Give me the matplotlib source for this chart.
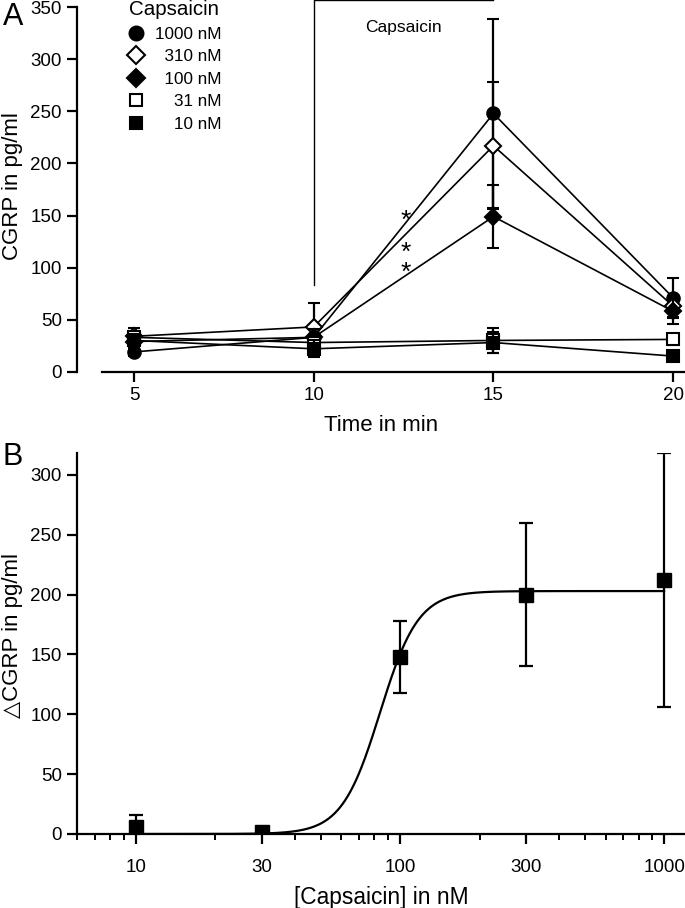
import numpy as np
import matplotlib.pyplot as plt
from matplotlib.lines import Line2D
from matplotlib.ticker import FixedLocator, NullFormatter

plt.rcParams['font.family'] = ['Liberation Sans', 'DejaVu Sans']

# Panel A: time course
times = [5, 10, 15, 20]
conc_labels = ['1000 nM', '  310 nM', '  100 nM', '    31 nM', '    10 nM']
markers = ['o', 'D', 'D', 's', 's']
filled = [True, False, True, False, True]
msizes = [9, 8, 8, 8, 8]
cgrp = [
    [19, 33, 248, 71],   # 1000 nM
    [34, 43, 217, 63],   # 310 nM
    [29, 33, 149, 58],   # 100 nM
    [33, 28, 30, 31],    # 31 nM
    [30, 22, 28, 15],    # 10 nM
]
cgrp_err = [
    [4, 8, 91, 19],
    [8, 23, 61, 10],
    [5, 8, 30, 12],
    [6, 8, 12, 5],
    [5, 8, 10, 4],
]
stim_start, stim_end, stim_low, stim_top = 10, 15, 83, 357
star_x = 12.57
star_y = [150, 119, 100]

# Panel B: concentration response
conc = [10, 30, 100, 300, 1000]
delta_cgrp = [6, 2, 148, 200, 212]
delta_err = [10, 0, 30, 60, 106]
minor_conc = [6, 7, 8, 9, 20, 40, 50, 60, 70, 80, 90,
              200, 400, 500, 600, 700, 800, 900]
fit_top, fit_ec50, fit_hill = 203, 84, 6.0

fig = plt.figure(figsize=(6.85, 9.08), dpi=100)

# ---- A ----
ax1 = fig.add_axes([77/685, 1 - 371.7/908, 608/685, 371.7/908])
for i in range(len(cgrp)):
    ax1.errorbar(times, cgrp[i], yerr=cgrp_err[i], color='black', lw=1.2,
                 marker=markers[i], ms=msizes[i], mec='black', mew=1.5,
                 mfc='black' if filled[i] else 'white',
                 elinewidth=1.6, capsize=4, capthick=1.6, zorder=3 + i * 0.1)

ax1.plot([stim_start, stim_start, stim_end], [stim_low, stim_top, stim_top],
         color='black', lw=1.0, clip_on=False)
ax1.text((stim_start + stim_end) / 2, 331, 'Capsaicin', fontsize=12.5,
         ha='center', va='center')

# significance stars: top one alone, the two lower ones share one text
ax1.annotate('*', (star_x, star_y[0]), xytext=(0, -4),
             textcoords='offset points', fontsize=19, ha='center', va='center')
ax1.annotate('*\n*', (star_x, (star_y[1] + star_y[2]) / 2), xytext=(0, -4),
             textcoords='offset points', fontsize=19, ha='center',
             va='center', linespacing=0.78)

ax1.set_xlim(3.414, 20.33)
ax1.set_ylim(0, 357)
ax1.set_xticks(times)
ax1.set_yticks(np.arange(0, 351, 50))
ax1.spines['top'].set_visible(False)
ax1.spines['right'].set_visible(False)
ax1.spines['left'].set_bounds(0, 350)
ax1.spines['bottom'].set_bounds(4.11, 20.33)
for sp in ['left', 'bottom']:
    ax1.spines[sp].set_linewidth(1.6)
ax1.tick_params(direction='out', length=7, width=1.6, labelsize=13.5, pad=4)
ax1.set_xlabel('Time in min', fontsize=16, labelpad=8)
ax1.set_ylabel('CGRP in pg/ml', fontsize=16, va='center')
ax1.yaxis.set_label_coords((13 - 77) / 608, 0.5)

handles = [Line2D([], [], ls='none', marker=markers[i], ms=msizes[i] + 1,
                  color='black', mew=1.5,
                  mfc='black' if filled[i] else 'white')
           for i in range(len(conc_labels))]
leg = ax1.legend(handles, conc_labels, title='Capsaicin', loc='upper left',
                 bbox_to_anchor=((129 - 77) / 608, 1.0), frameon=False,
                 fontsize=12.3, title_fontsize=14.8, borderpad=0,
                 borderaxespad=0, handlelength=0.8, handletextpad=0.7,
                 labelspacing=0.44)
leg._legend_box.align = 'left'

fig.text(13 / 685, 1 - 17 / 908, 'A', fontsize=22, ha='center', va='center')

# ---- B ----
ax2 = fig.add_axes([77/685, 1 - 834/908, 608/685, 318 * 1.1967 / 908])
xs = np.logspace(1, 3, 400)
fit_curve = fit_top / (1 + (fit_ec50 / xs) ** fit_hill)
ax2.plot(xs, fit_curve, color='black', lw=1.6)
ax2.errorbar(conc, delta_cgrp, yerr=delta_err, fmt='s', color='black',
             ms=10, elinewidth=1.6, capsize=5, capthick=1.6, zorder=3)
ax2.set_xscale('log')
ax2.set_xlim(5.98, 1200)
ax2.set_ylim(0, 318)
ax2.xaxis.set_major_locator(FixedLocator(conc))
ax2.set_xticklabels([str(c) for c in conc])
ax2.xaxis.set_minor_locator(FixedLocator(minor_conc))
ax2.xaxis.set_minor_formatter(NullFormatter())
ax2.set_yticks(np.arange(0, 301, 50))
ax2.spines['top'].set_visible(False)
ax2.spines['right'].set_visible(False)
for sp in ['left', 'bottom']:
    ax2.spines[sp].set_linewidth(1.6)
ax2.tick_params(which='major', direction='out', length=7, width=1.6,
                labelsize=13.5, pad=4)
ax2.tick_params(axis='x', which='major', pad=11)
ax2.tick_params(which='minor', direction='out', length=4, width=1.4)
ax2.set_xlabel('[Capsaicin] in nM', fontsize=16.4, labelpad=7)
ax2.set_ylabel('\u25b3CGRP in pg/ml', fontsize=16, va='center')
ax2.yaxis.set_label_coords((13 - 77) / 608, (834 - 636) / (318 * 1.1967))

fig.text(13 / 685, 1 - 457 / 908, 'B', fontsize=22, ha='center', va='center')

fig.savefig('out.png', dpi=100)
